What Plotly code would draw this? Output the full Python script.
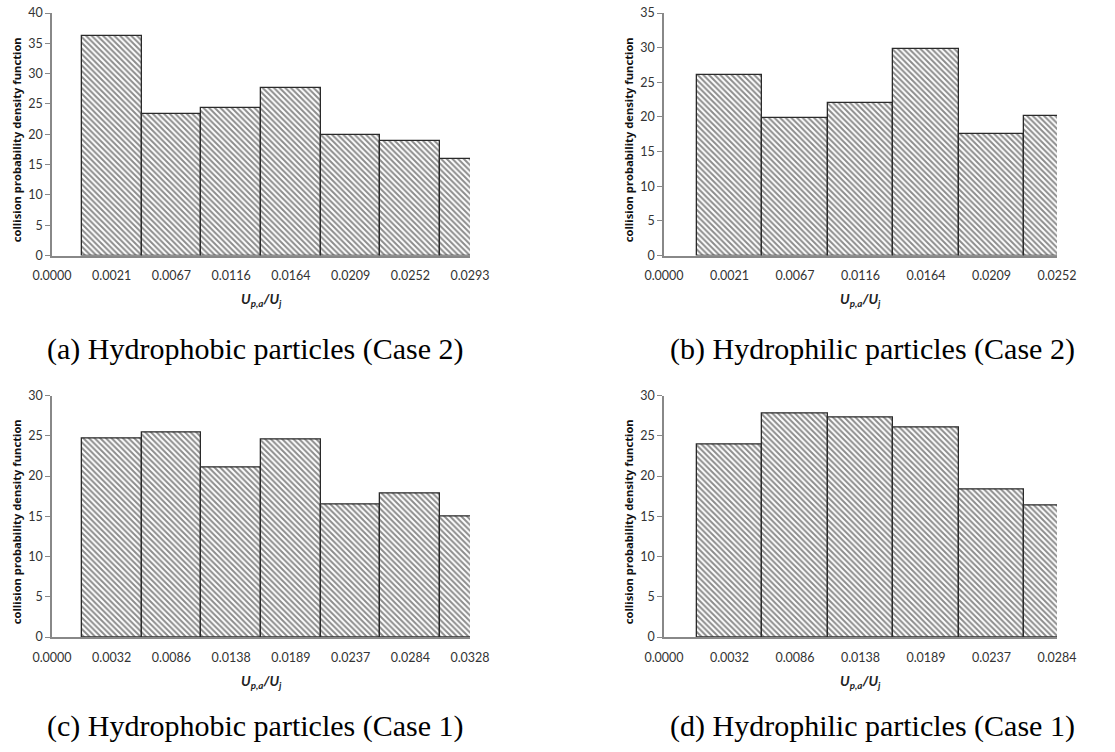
import plotly.graph_objects as go

# ---- data ----
ticks_a = ["0.0000", "0.0021", "0.0067", "0.0116", "0.0164", "0.0209", "0.0252", "0.0293"]
vals_a = [36.2, 23.4, 24.3, 27.7, 19.9, 18.9, 15.9]

ticks_b = ["0.0000", "0.0021", "0.0067", "0.0116", "0.0164", "0.0209", "0.0252"]
vals_b = [26.1, 19.9, 22.0, 29.8, 17.6, 20.1]

ticks_c = ["0.0000", "0.0032", "0.0086", "0.0138", "0.0189", "0.0237", "0.0284", "0.0328"]
vals_c = [24.6, 25.4, 21.1, 24.5, 16.5, 17.8, 15.0]

ticks_d = ["0.0000", "0.0032", "0.0086", "0.0138", "0.0189", "0.0237", "0.0284"]
vals_d = [23.9, 27.8, 27.3, 26.0, 18.3, 16.3]

ymax = [40, 35, 30, 30]
captions = ["(a) Hydrophobic particles (Case 2)", "(b) Hydrophilic particles (Case 2)",
            "(c) Hydrophobic particles (Case 1)", "(d) Hydrophilic particles (Case 1)"]
ytitle = "collision probability density function"
xtitle = "<b><i>U<sub>p,a</sub>/U<sub>j</sub></i></b>"

W, H = 1115, 752
panels = [
    dict(ticks=ticks_a, vals=vals_a, x0=52, x1=470, ytop=13, ybot=255.5),
    dict(ticks=ticks_b, vals=vals_b, x0=664, x1=1057, ytop=13, ybot=255.5),
    dict(ticks=ticks_c, vals=vals_c, x0=52, x1=470, ytop=395.5, ybot=637),
    dict(ticks=ticks_d, vals=vals_d, x0=664, x1=1057, ytop=395.5, ybot=637),
]

fig = go.Figure()
tickfont = dict(family="Lato", size=12.5, color="#333333")
annotations = []
for i, p in enumerate(panels):
    n = i + 1
    xa = "x" if n == 1 else f"x{n}"
    ya = "y" if n == 1 else f"y{n}"
    fig.add_trace(go.Bar(
        x=list(range(1, len(p["vals"]) + 1)), y=p["vals"], width=1,
        xaxis=xa, yaxis=ya, showlegend=False, hoverinfo="skip",
        marker=dict(color="white",
                    line=dict(color="#2a2a2a", width=1.3),
                    pattern=dict(shape="\\", size=4, solidity=0.5,
                                 fgcolor="#1a1a1a", bgcolor="white")),
    ))
    xk = "xaxis" if n == 1 else f"xaxis{n}"
    yk = "yaxis" if n == 1 else f"yaxis{n}"
    fig.layout[xk] = dict(
        domain=[p["x0"] / W, p["x1"] / W], anchor=ya, automargin=False,
        range=[0, len(p["ticks"]) - 1],
        tickmode="array", tickvals=list(range(len(p["ticks"]))), ticktext=p["ticks"],
        showline=True, linecolor="#888888", linewidth=1.5,
        ticks="outside", ticklen=8, tickcolor="rgba(0,0,0,0)",
        showgrid=False, zeroline=False, tickfont=tickfont, fixedrange=True,
    )
    fig.layout[yk] = dict(
        domain=[1 - p["ybot"] / H, 1 - p["ytop"] / H], anchor=xa, automargin=False,
        range=[0, ymax[i]], dtick=5,
        showline=True, linecolor="#888888", linewidth=1.5,
        ticks="outside", ticklen=5, tickcolor="#888888",
        showgrid=False, zeroline=False, tickfont=tickfont, fixedrange=True,
    )
    cx = (p["x0"] + p["x1"]) / 2
    # x-axis title
    annotations.append(dict(text=xtitle, x=cx / W, y=1 - (p["ybot"] + 44) / H,
                            xref="paper", yref="paper", showarrow=False,
                            xanchor="center", yanchor="middle",
                            font=dict(family="Lato", size=14, color="#222222")))
    # y-axis title
    annotations.append(dict(text="<b>" + ytitle + "</b>", x=(p["x0"] - 36) / W,
                            y=1 - ((p["ytop"] + p["ybot"]) / 2 + 6) / H,
                            xref="paper", yref="paper", showarrow=False, textangle=-90,
                            xanchor="center", yanchor="middle",
                            font=dict(family="Open Sans", size=11.2, color="#111111")))
    # caption
    cap_y = 349 if i < 2 else 726
    cap_x = 255 if i % 2 == 0 else 872
    annotations.append(dict(text=captions[i], x=cap_x / W, y=1 - cap_y / H,
                            xref="paper", yref="paper", showarrow=False,
                            xanchor="center", yanchor="middle",
                            font=dict(family="Liberation Serif", size=30, color="#000000")))

fig.update_layout(
    width=W, height=H, margin=dict(l=0, r=0, t=0, b=0, autoexpand=False),
    paper_bgcolor="white", plot_bgcolor="white",
    bargap=0, annotations=annotations,
)
fig.write_html("out.html")
